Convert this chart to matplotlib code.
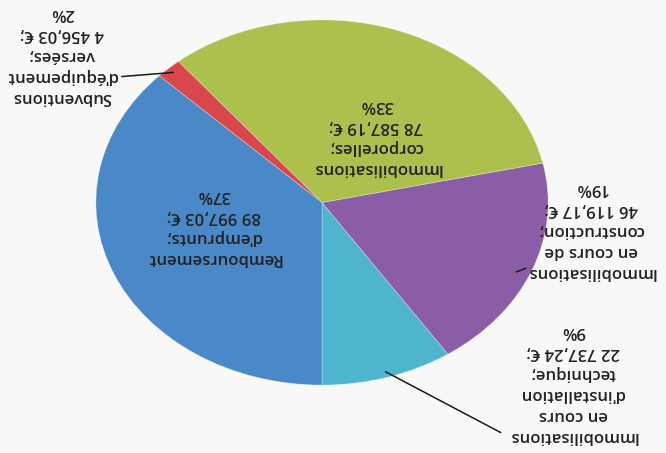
import numpy as np
import matplotlib.pyplot as plt

# slice order follows the drawing direction (counter-clockwise from the bottom)
names = ["Immobilisations\nen cours\nd'installation\ntechnique;",
         "Immobilisations\nen cours de\nconstruction;",
         "Immobilisations\ncorporelles;",
         "Subventions\nd'équipement\nversées;",
         "Remboursement\nd'emprunts;"]
amounts = ["22 737,24 €", "46 119,17 €", "78 587,19 €", "4 456,03 €", "89 997,03 €"]
values = [22737.24, 46119.17, 78587.19, 4456.03, 89997.03]
pcts = ["9%", "19%", "33%", "2%", "37%"]
colors = ["#4fb5cf", "#8a5da6", "#abc04d", "#d9464b", "#4a88c8"]

plt.rcParams['font.family'] = ['Open Sans', 'DejaVu Sans']

fig = plt.figure(figsize=(6.66, 4.53), dpi=100, facecolor="#f8f8f6")
# the page is photographed upside down: whole chart rotated by 180 degrees
ax = fig.add_axes([0.144, 0.150, 0.679, 0.806])
ax.set_facecolor("#f8f8f6")

wedges, _ = ax.pie(values, colors=colors, startangle=-90, counterclock=True,
                   wedgeprops=dict(linewidth=0.6, edgecolor="#ffffff55"))
ax.set_aspect('auto')
ax.set_xlim(-1, 1)
ax.set_ylim(-1, 1)
ax.axis('off')

# label block centers, and where leader lines meet the text (None = inside label)
text_pos = [(1.11, -0.99), (1.19, -0.15), (0.24, 0.36), (-1.15, 0.81), (-0.48, -0.13)]
line_end = [(0.79, -1.26), (0.86, -0.38), None, (-0.885, 0.69), None]

for w, n, a, p, tp, le in zip(wedges, names, amounts, pcts, text_pos, line_end):
    label = n + "\n" + a + ";\n" + p
    ax.text(tp[0], tp[1], label, rotation=180, ha='center', va='center',
            multialignment='center', fontsize=12, fontweight='semibold',
            color="#222222", linespacing=1.42, clip_on=False)
    if le is not None:
        mid = np.deg2rad((w.theta1 + w.theta2) / 2)
        x0, y0 = 0.97 * np.cos(mid), 0.97 * np.sin(mid)
        ax.plot([x0, le[0]], [y0, le[1]], color="#1a1a1a", lw=1.1, clip_on=False)

fig.savefig("out.png", dpi=100, facecolor=fig.get_facecolor())
